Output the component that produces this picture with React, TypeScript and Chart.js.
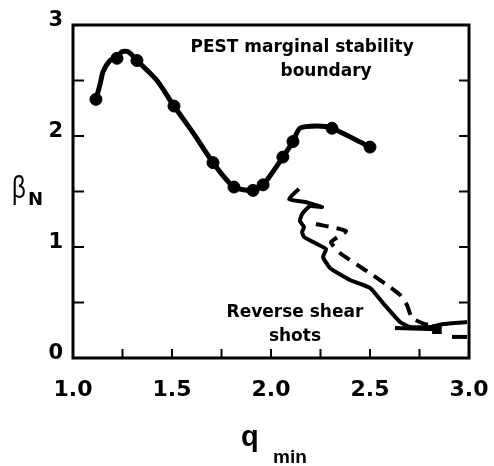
import React, { useEffect, useRef } from "react";
import { Chart, registerables } from "chart.js";
Chart.register(...registerables);

// PEST marginal stability boundary (smooth curve)
const pestCurveX = [1.116, 1.136, 1.152, 1.187, 1.222, 1.247, 1.278, 1.323, 1.424, 1.51, 1.606, 1.707, 1.813, 1.909, 1.96, 2.06, 2.111, 2.146, 2.232, 2.308, 2.5];
const pestCurveY = [2.33, 2.46, 2.58, 2.68, 2.71, 2.76, 2.76, 2.68, 2.5, 2.27, 2.03, 1.76, 1.54, 1.51, 1.56, 1.81, 1.95, 2.07, 2.09, 2.07, 1.9];
// PEST computed points (markers)
const pestPointX = [1.116, 1.222, 1.323, 1.51, 1.707, 1.813, 1.909, 1.96, 2.06, 2.111, 2.308, 2.5];
const pestPointY = [2.33, 2.7, 2.68, 2.27, 1.76, 1.54, 1.51, 1.56, 1.81, 1.95, 2.07, 1.9];
// Reverse shear shot, solid trajectory
const shotSolidX = [2.141, 2.091, 2.172, 2.258, 2.197, 2.157, 2.146, 2.167, 2.157, 2.167, 2.232, 2.278, 2.263, 2.298, 2.399, 2.5, 2.566, 2.652, 2.702, 2.803, 2.869, 2.99];
const shotSolidY = [1.523, 1.432, 1.405, 1.36, 1.369, 1.297, 1.234, 1.18, 1.135, 1.09, 1.027, 0.982, 0.91, 0.811, 0.703, 0.631, 0.495, 0.324, 0.279, 0.279, 0.306, 0.324];
// Reverse shear shot, dashed trajectory
const shotDashX = [2.227, 2.379, 2.303, 2.348, 2.475, 2.586, 2.652, 2.687, 2.712, 2.778, 2.854];
const shotDashY = [1.207, 1.144, 1.045, 0.946, 0.793, 0.658, 0.568, 0.477, 0.36, 0.306, 0.279];
// short extra segments near the bottom right
const shotTailX = [2.626, 2.838];
const shotTailY = [0.27, 0.26];
const shotEndX = [2.914, 2.99];
const shotEndY = [0.19, 0.19];

// axis ticks
const xTickLabels = ["1.0", "1.5", "2.0", "2.5", "3.0"];
const yTickLabels = ["0", "1", "2", "3"];
const yMinorTicks = [0.5, 1, 1.5, 2, 2.5];
const xMinorTicks = [1.25, 1.5, 1.75, 2, 2.25, 2.5, 2.75];

// annotations (data coordinates of text centres)
const noteTexts = ["PEST marginal stability", "boundary", "Reverse shear", "shots"];
const noteX = [2.157, 2.278, 2.121, 2.121];
const noteY = [2.793, 2.577, 0.405, 0.189];

const pts = (xs: number[], ys: number[]) => xs.map((x, i) => ({ x, y: ys[i] }));

const frameAndText = {
  id: "frameAndText",
  afterDraw(chart: any) {
    const { ctx, chartArea: a, scales } = chart;
    const xs = scales.x;
    const ys = scales.y;
    ctx.save();
    ctx.strokeStyle = "#000";
    ctx.lineWidth = 3;
    ctx.strokeRect(a.left, a.top, a.right - a.left, a.bottom - a.top);
    ctx.lineWidth = 2;
    ctx.beginPath();
    yMinorTicks.forEach((v) => {
      const py = ys.getPixelForValue(v);
      ctx.moveTo(a.left, py);
      ctx.lineTo(a.left + 11, py);
      ctx.moveTo(a.right, py);
      ctx.lineTo(a.right - 10, py);
    });
    xMinorTicks.forEach((v) => {
      const px = xs.getPixelForValue(v);
      ctx.moveTo(px, a.bottom);
      ctx.lineTo(px, a.bottom - 9);
    });
    ctx.stroke();

    ctx.fillStyle = "#000";
    ctx.textAlign = "center";
    ctx.textBaseline = "middle";
    ctx.font = "bold 17px 'DejaVu Sans'";
    noteTexts.forEach((t, i) => {
      ctx.fillText(t, xs.getPixelForValue(noteX[i]), ys.getPixelForValue(noteY[i]));
    });

    // axis titles
    ctx.textAlign = "left";
    ctx.textBaseline = "alphabetic";
    ctx.save();
    ctx.translate(a.left - 61, a.top + 173);
    ctx.scale(0.75, 1);
    ctx.font = "32px 'Liberation Sans'";
    ctx.fillText("β", 0, 0);
    ctx.restore();
    ctx.font = "bold 18px 'DejaVu Sans'";
    ctx.fillText("N", a.left - 45, a.top + 180);

    ctx.font = "bold 29px 'Liberation Sans'";
    ctx.fillText("q", a.left + 168, a.bottom + 88);
    ctx.font = "bold 19px 'Liberation Sans'";
    ctx.fillText("min", a.left + 200, a.bottom + 105);
    ctx.restore();
  },
};

export default function App() {
  const ref = useRef<HTMLCanvasElement>(null);
  useEffect(() => {
    const black = "#000";
    const chart = new Chart(ref.current!, {
      type: "scatter",
      data: {
        datasets: [
          {
            data: pts(pestCurveX, pestCurveY),
            showLine: true,
            borderColor: black,
            borderWidth: 5,
            pointRadius: 0,
            tension: 0.25,
          },
          {
            data: pts(pestPointX, pestPointY),
            showLine: false,
            pointRadius: 6,
            pointBackgroundColor: black,
            pointBorderColor: black,
          },
          {
            data: pts(shotSolidX, shotSolidY),
            showLine: true,
            borderColor: black,
            borderWidth: 4,
            pointRadius: 0,
            tension: 0.15,
          },
          {
            data: pts(shotDashX, shotDashY),
            showLine: true,
            borderColor: black,
            borderWidth: 4,
            borderDash: [13, 8],
            pointRadius: 0,
            tension: 0.15,
          },
          {
            data: pts(shotTailX, shotTailY),
            showLine: true,
            borderColor: black,
            borderWidth: 4,
            pointRadius: [0, 4],
            pointStyle: "rect",
            pointBackgroundColor: black,
            pointBorderColor: black,
          },
          {
            data: pts(shotEndX, shotEndY),
            showLine: true,
            borderColor: black,
            borderWidth: 4,
            pointRadius: 0,
          },
        ],
      },
      options: {
        animation: false,
        responsive: false,
        devicePixelRatio: 1,
        layout: { padding: { top: 25, right: 25, left: 0, bottom: 0 } },
        plugins: { legend: { display: false }, tooltip: { enabled: false } },
        scales: {
          x: {
            type: "linear",
            min: 1,
            max: 3,
            grid: { display: false, drawTicks: false },
            border: { display: false },
            ticks: {
              stepSize: 0.5,
              color: black,
              padding: 19,
              font: { family: "DejaVu Sans", weight: "bold", size: 22 },
              callback: (v: any, i: number) => xTickLabels[i] ?? Number(v).toFixed(1),
            },
            afterFit: (s: any) => {
              s.height = 108;
              s.paddingLeft = 0;
              s.paddingRight = 0;
            },
          },
          y: {
            type: "linear",
            min: 0,
            max: 3,
            grid: { display: false, drawTicks: false },
            border: { display: false },
            ticks: {
              stepSize: 1,
              color: black,
              padding: 10,
              labelOffset: -4,
              font: { family: "DejaVu Sans", weight: "bold", size: 21 },
              callback: (v: any, i: number) => yTickLabels[i] ?? String(v),
            },
            afterFit: (s: any) => {
              s.width = 73;
              s.paddingTop = 0;
              s.paddingBottom = 0;
            },
          },
        },
      },
      plugins: [frameAndText],
    });
    return () => chart.destroy();
  }, []);
  return (
    <div style={{ position: "absolute", left: 0, top: 0, width: 494, height: 466, background: "#fff" }}>
      <canvas ref={ref} width={494} height={466} style={{ display: "block" }} />
    </div>
  );
}
